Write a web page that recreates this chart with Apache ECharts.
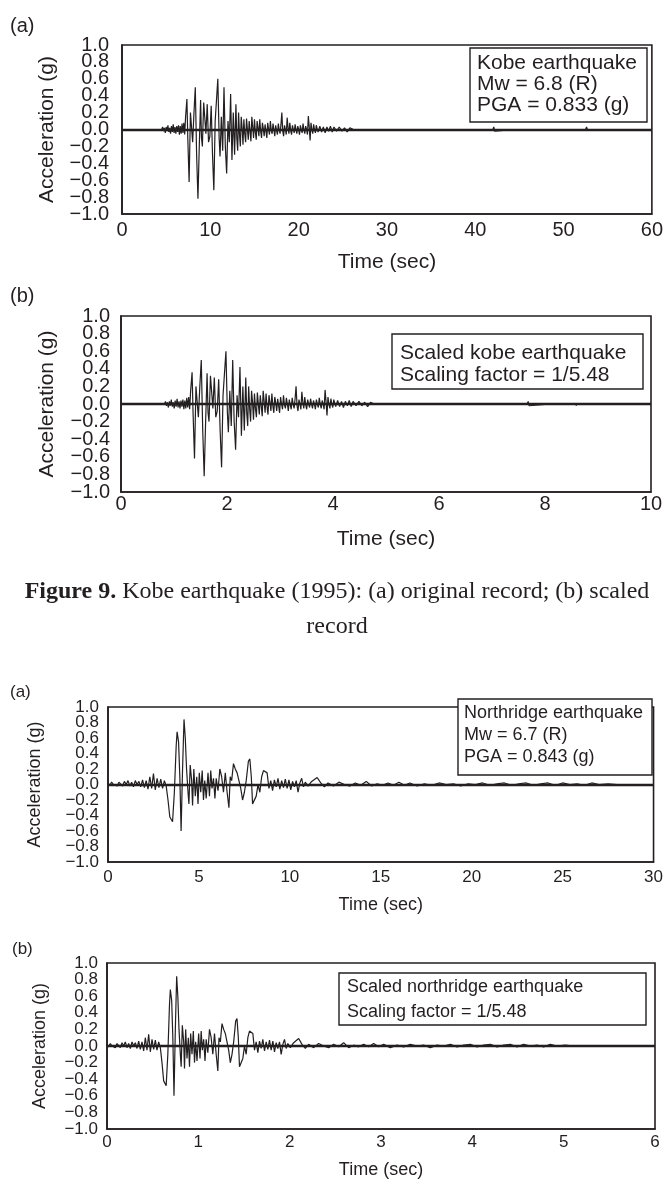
<!DOCTYPE html>
<html>
<head>
<meta charset="utf-8">
<script src="https://cdn.jsdelivr.net/npm/echarts@6/dist/echarts.min.js"></script>
<style>
html,body{margin:0;padding:0;background:#fff;}
#c{width:666px;height:1181px;}
</style>
</head>
<body>
<div id="c"></div>
<script>
// ---- Data ----
// Kobe earthquake, original record: [time (s), acceleration (g)]
const kobeRecord = [
  [4.5,0],[4.6,0.03],[4.7,-0.02],[4.8,0.02],[4.9,-0.04],[5.0,0.03],[5.1,-0.02],[5.2,0.05],[5.3,-0.03],[5.4,0.02],
  [5.5,-0.05],[5.6,0.04],[5.7,-0.03],[5.8,0.06],[5.9,-0.04],[6.0,0.03],[6.1,-0.05],[6.2,0.04],[6.3,-0.03],[6.4,0.05],
  [6.5,-0.06],[6.6,0.04],[6.7,-0.05],[6.8,0.07],[6.9,-0.04],[7.0,0.08],[7.1,-0.06],[7.2,0.15],
  [7.35,0.36],[7.45,-0.1],[7.6,-0.62],[7.75,0.2],[7.9,0.18],[8.0,-0.15],[8.15,0.2],[8.3,0.5],[8.45,-0.3],[8.6,-0.82],
  [8.75,-0.2],[8.9,0.35],[9.0,-0.1],[9.1,-0.2],[9.25,0.32],[9.4,0.1],[9.5,-0.05],[9.65,0.3],[9.8,-0.15],[9.95,-0.08],
  [10.1,0.28],[10.25,-0.3],[10.4,-0.72],[10.55,0.1],[10.7,0.35],[10.85,0.6],[11.0,-0.1],[11.1,-0.32],[11.25,0.15],[11.4,-0.25],
  [11.55,0.5],[11.7,-0.2],[11.85,-0.52],[12.0,0.1],[12.15,-0.15],[12.3,0.42],[12.45,-0.36],[12.6,0.2],[12.75,-0.3],
  [12.9,0.3],[13.0,-0.1],[13.1,-0.25],[13.2,0.2],[13.3,-0.05],[13.4,-0.2],[13.5,0.15],[13.6,0.02],[13.7,-0.18],[13.8,0.12],
  [13.9,-0.05],[14.0,-0.15],[14.1,0.13],[14.2,0.0],[14.3,-0.12],[14.4,0.1],[14.5,-0.02],[14.6,-0.14],[14.7,0.15],[14.8,0.03],
  [14.9,-0.1],[15.0,0.12],[15.1,-0.03],[15.2,-0.12],[15.3,0.1],[15.4,0.02],[15.5,-0.08],[15.6,0.12],[15.7,-0.02],[15.8,-0.1],
  [15.9,0.08],[16.0,0.01],[16.1,-0.08],[16.2,0.06],[16.3,-0.02],[16.4,-0.1],[16.5,0.08],[16.6,0.0],[16.7,-0.06],[16.8,0.1],
  [16.9,-0.01],[17.0,-0.05],[17.1,0.07],[17.2,0.0],[17.3,-0.08],[17.4,0.05],[17.5,-0.01],[17.6,-0.06],[17.7,0.07],[17.8,0.0],
  [17.9,-0.05],[18.0,0.06],[18.1,0.2],[18.2,-0.02],[18.3,-0.08],[18.4,0.05],[18.5,0.0],[18.6,-0.06],[18.7,0.14],[18.8,0.02],
  [18.9,-0.05],[19.0,0.08],[19.1,-0.01],[19.2,-0.06],[19.3,0.05],[19.4,0.0],[19.5,-0.04],[19.6,0.06],[19.7,0.0],[19.8,-0.05],
  [19.9,0.04],[20.0,0.0],[20.1,-0.06],[20.2,0.05],[20.3,0.0],[20.4,-0.04],[20.5,0.07],[20.6,0.0],[20.7,-0.05],[20.8,0.04],
  [20.9,0.0],[21.0,-0.06],[21.1,0.16],[21.2,0.03],[21.3,-0.13],[21.4,0.08],[21.5,0.0],[21.6,-0.05],[21.7,0.06],[21.8,0.0],
  [21.9,-0.04],[22.0,0.05],[22.2,-0.03],[22.4,0.04],[22.6,-0.03],[22.8,0.03],[23.0,-0.04],[23.2,0.03],[23.4,-0.02],[23.6,0.04],
  [23.8,-0.03],[24.0,0.03],[24.3,-0.02],[24.6,0.03],[24.9,-0.02],[25.2,0.02],[25.5,-0.03],[25.8,0.02],[26.2,0.0],
  [27.0,0.0],[27.1,0.02],[27.2,0.0],[29.0,0.0],[29.1,-0.02],[29.2,0.0],[31.0,0.0],[31.1,0.02],[31.2,0.0],[33.5,0.0],
  [33.6,0.02],[33.7,0.0],[36.0,0.0],[36.1,-0.02],[36.2,0.0],[38.5,0.0],[38.6,0.02],[38.7,0.0],[41.0,0.0],[41.1,0.02],
  [41.2,0.0],[42.0,0.0],[42.1,0.03],[42.2,-0.02],[42.3,0.0],[44.5,0.0],[44.6,0.02],[44.7,0.0],[47.0,0.0],[47.1,-0.02],
  [47.2,0.0],[50.0,0.0],[50.1,0.02],[50.2,0.0],[52.5,0.0],[52.6,0.03],[52.7,0.0],[53.5,0.0],[53.6,0.02],[53.7,0.0],[55.0,0.0]
];
// Northridge earthquake, original record: [time (s), acceleration (g)]
const northRecord = [
  [0.0,0.02],[0.1,-0.01],[0.2,0.03],[0.3,0.0],[0.4,0.02],[0.5,-0.02],[0.6,0.03],[0.7,0.01],[0.8,-0.02],[0.9,0.04],
  [1.0,0.0],[1.1,0.05],[1.2,-0.02],[1.3,0.03],[1.4,-0.03],[1.5,0.05],[1.6,0.0],[1.7,0.04],[1.8,-0.03],[1.9,0.06],
  [2.0,-0.04],[2.1,0.05],[2.2,-0.06],[2.3,0.1],[2.4,-0.05],[2.5,0.14],[2.6,-0.07],[2.7,0.08],[2.8,-0.04],[2.9,0.07],
  [3.0,-0.05],[3.1,0.05],[3.2,-0.02],[3.3,-0.2],[3.4,-0.42],[3.55,-0.48],[3.65,-0.1],[3.75,0.5],[3.8,0.68],[3.88,0.55],
  [3.95,0.1],[4.02,-0.6],[4.1,0.2],[4.18,0.84],[4.25,0.6],[4.32,0.2],[4.4,-0.1],[4.45,-0.25],[4.52,0.25],[4.6,0.05],
  [4.65,-0.27],[4.72,0.2],[4.8,-0.15],[4.88,0.1],[4.95,-0.25],[5.02,0.15],[5.1,-0.1],[5.18,0.18],[5.25,-0.2],[5.32,0.05],
  [5.4,-0.18],[5.5,0.15],[5.58,-0.15],[5.65,0.18],[5.72,-0.05],[5.8,0.08],[5.88,-0.18],[5.95,0.08],[6.05,-0.08],[6.15,0.2],
  [6.25,0.1],[6.35,-0.1],[6.45,0.15],[6.55,-0.1],[6.65,-0.3],[6.72,0.1],[6.8,0.05],[6.9,0.27],[7.0,0.2],[7.1,0.15],
  [7.2,0.05],[7.3,-0.05],[7.4,-0.2],[7.5,-0.1],[7.6,0.05],[7.72,0.3],[7.8,0.33],[7.88,0.1],[7.95,-0.25],[8.05,-0.27],
  [8.15,-0.15],[8.25,0.0],[8.35,-0.1],[8.45,0.1],[8.55,0.18],[8.65,0.2],[8.75,0.15],[8.85,-0.05],[8.95,0.05],[9.05,-0.08],
  [9.15,0.06],[9.25,-0.03],[9.35,0.08],[9.45,-0.06],[9.55,0.05],[9.65,-0.04],[9.75,0.07],[9.85,-0.05],[9.95,0.06],[10.05,-0.07],
  [10.15,0.04],[10.25,-0.03],[10.35,0.05],[10.45,-0.1],[10.55,0.02],[10.65,0.08],[10.75,-0.03],[10.85,0.03],[11.0,-0.02],[11.2,0.04],
  [11.5,0.09],[11.7,0.02],[11.9,-0.03],[12.1,0.02],[12.4,-0.02],[12.7,0.03],[13.0,0.0],[13.3,-0.02],[13.6,0.02],[13.9,-0.01],
  [14.2,0.04],[14.5,-0.02],[14.8,0.01],[15.1,-0.01],[15.4,0.02],[15.7,-0.01],[16.0,0.03],[16.3,-0.01],[16.6,0.02],[17.0,-0.02],
  [17.4,0.01],[17.8,-0.01],[18.2,0.02],[18.6,0.0],[19.0,0.01],[19.4,-0.02],[19.8,0.01],[20.2,0.0],[20.6,0.02],[21.0,-0.01],
  [21.4,0.01],[21.8,0.02],[22.2,-0.01],[22.6,0.01],[23.0,0.02],[23.4,-0.01],[23.8,0.01],[24.2,0.02],[24.6,-0.01],[25.0,0.02],
  [25.4,0.0],[25.8,0.01],[26.2,-0.01],[26.6,0.02],[27.0,0.0],[27.5,0.01],[28.0,0.0]
];
const scalingFactor = 5.48;      // time scaling of the scaled records (1/5.48)
const kobeScaledEnd = 8.8;       // scaled Kobe record drawn up to ~8.8 s
const xMax = [60, 10, 30, 6];
const xStep = [10, 2, 5, 1];
const yMin = -1.0, yMax = 1.0, yStep = 0.2;
const panelTags = ['(a)', '(b)', '(a)', '(b)'];
const boxTexts = [
  'Kobe earthquake\nMw = 6.8 (R)\nPGA = 0.833 (g)',
  'Scaled kobe earthquake\nScaling factor = 1/5.48',
  'Northridge earthquake\nMw = 6.7 (R)\nPGA = 0.843 (g)',
  'Scaled northridge earthquake\nScaling factor = 1/5.48'
];
const captionBold = 'Figure 9.';
const captionLine1 = 'Kobe earthquake (1995): (a) original record; (b) scaled';
const captionLine2 = 'record';

// ---- Build chart ----
const SANS = '"Liberation Sans", Arial, Helvetica, sans-serif';
const SERIF = '"Liberation Serif", "Times New Roman", serif';
const INK = '#231f20';

const scaleRec = (rec, div, maxT) => rec
  .map(p => [p[0] / div, p[1]])
  .filter(p => maxT == null || p[0] <= maxT);
const seriesData = [
  scaleRec(kobeRecord, 1),
  scaleRec(kobeRecord, scalingFactor, kobeScaledEnd),
  scaleRec(northRecord, 1),
  scaleRec(northRecord, scalingFactor)
];

const grids = [
  {left: 122, top: 45, width: 531, height: 169},
  {left: 121, top: 316, width: 530, height: 176},
  {left: 108, top: 707, width: 549, height: 155},
  {left: 107, top: 963, width: 548, height: 166}
];
const tickFs = [20, 20, 17, 17];
const nameFs = [21, 21, 18, 18];
const yLabMargin = [13, 11, 9, 9];
const xLabMargin = [6, 2, 7, 5];
const yNameGap = [64, 63, 64, 58];
const xNameGap = [38, 37, 34, 32];

const fmtNum = v => {
  const r = Math.round(v * 10) / 10;
  return (r < 0 ? '\u2212' : '') + Math.abs(r).toFixed(1);
};
const isEnd = v => Math.abs(Math.abs(v) - 1) < 1e-6;
// inner ticks on the main axis, the two end ticks (±1.0) on a companion axis
const innerFmt = v => isEnd(v) ? '' : fmtNum(v);
const endFmt = v => isEnd(v) ? fmtNum(v) : '';

const baseY = (i) => ({
  type: 'value', gridIndex: i, min: yMin, max: yMax,
  axisTick: {show: false},
  splitLine: {show: false}
});

const yAxes = grids.map((g, i) => Object.assign(baseY(i), {
  interval: yStep,
  name: 'Acceleration (g)', nameLocation: 'middle', nameGap: yNameGap[i],
  nameTextStyle: {fontFamily: SANS, fontSize: nameFs[i], color: INK},
  axisLine: {show: true, onZero: false, lineStyle: {color: INK, width: 1.6}},
  axisLabel: {fontFamily: SANS, fontSize: tickFs[i], color: INK, margin: yLabMargin[i], formatter: innerFmt,
    showMinLabel: false, showMaxLabel: false, hideOverlap: false}
})).concat(grids.map((g, i) => Object.assign(baseY(i), {
  interval: 1,
  position: 'left',
  axisLine: {show: false, onZero: false},
  axisLabel: {fontFamily: SANS, fontSize: tickFs[i], color: INK, margin: yLabMargin[i], formatter: endFmt,
    showMinLabel: true, showMaxLabel: true, hideOverlap: false}
})));

const option = {
  animation: false,
  backgroundColor: '#fff',
  grid: grids.map(g => Object.assign({}, g, {show: true, borderColor: INK, borderWidth: 1.6, backgroundColor: 'transparent', containLabel: false})),
  xAxis: grids.map((g, i) => ({
    type: 'value', gridIndex: i, min: 0, max: xMax[i], interval: xStep[i],
    name: 'Time (sec)', nameLocation: 'middle', nameGap: xNameGap[i],
    nameTextStyle: {fontFamily: SANS, fontSize: nameFs[i], color: INK},
    axisLine: {show: true, onZero: false, lineStyle: {color: INK, width: 1.6}},
    axisTick: {show: false},
    splitLine: {show: false},
    axisLabel: {fontFamily: SANS, fontSize: tickFs[i], color: INK, margin: xLabMargin[i],
      showMinLabel: true, showMaxLabel: true, hideOverlap: false}
  })),
  yAxis: yAxes,
  series: seriesData.map((d, i) => ({
    type: 'line', xAxisIndex: i, yAxisIndex: i, data: d,
    showSymbol: false, symbol: 'none', smooth: false,
    lineStyle: {color: INK, width: 1.2},
    z: 2,
    markLine: {
      silent: true, symbol: 'none', label: {show: false},
      lineStyle: {color: INK, width: 2.4, type: 'solid'},
      data: [{yAxis: 0}], z: 3
    }
  })),
  graphic: [
    // panel tags
    {type: 'text', left: 10, top: 16, style: {text: panelTags[0], font: '20px ' + SANS, fill: INK}},
    {type: 'text', left: 10, top: 286, style: {text: panelTags[1], font: '20px ' + SANS, fill: INK}},
    {type: 'text', left: 10, top: 684, style: {text: panelTags[2], font: '17px ' + SANS, fill: INK}},
    {type: 'text', left: 12, top: 941, style: {text: panelTags[3], font: '17px ' + SANS, fill: INK}},
    // text boxes
    {type: 'rect', shape: {x: 470, y: 48, width: 177, height: 74}, style: {fill: '#fff', stroke: INK, lineWidth: 1.4}, z: 10},
    {type: 'text', x: 477, y: 53, z: 11, style: {text: boxTexts[0], font: '21px ' + SANS, lineHeight: 21, fill: INK}},
    {type: 'rect', shape: {x: 392, y: 334, width: 251, height: 55}, style: {fill: '#fff', stroke: INK, lineWidth: 1.4}, z: 10},
    {type: 'text', x: 400, y: 342, z: 11, style: {text: boxTexts[1], font: '21px ' + SANS, lineHeight: 22, fill: INK}},
    {type: 'rect', shape: {x: 458, y: 699, width: 194, height: 76}, style: {fill: '#fff', stroke: INK, lineWidth: 1.4}, z: 10},
    {type: 'text', x: 464, y: 702, z: 11, style: {text: boxTexts[2], font: '18px ' + SANS, lineHeight: 22, fill: INK}},
    {type: 'rect', shape: {x: 339, y: 973, width: 307, height: 52}, style: {fill: '#fff', stroke: INK, lineWidth: 1.4}, z: 10},
    {type: 'text', x: 347, y: 975, z: 11, style: {text: boxTexts[3], font: '18px ' + SANS, lineHeight: 25, fill: INK}},
    // caption
    {type: 'text', x: 337, y: 592, z: 11, style: {
      text: '{b|' + captionBold + '} ' + captionLine1, align: 'center', verticalAlign: 'middle',
      font: '24px ' + SERIF, fill: INK,
      rich: {b: {fontWeight: 'bold', fontSize: 24, fontFamily: SERIF, fill: INK}}
    }},
    {type: 'text', x: 337, y: 627, z: 11, style: {text: captionLine2, align: 'center', verticalAlign: 'middle', font: '24px ' + SERIF, fill: INK}}
  ]
};

const chart = echarts.init(document.getElementById('c'), null, {renderer: 'canvas'});
chart.setOption(option);
</script>
</body>
</html>
